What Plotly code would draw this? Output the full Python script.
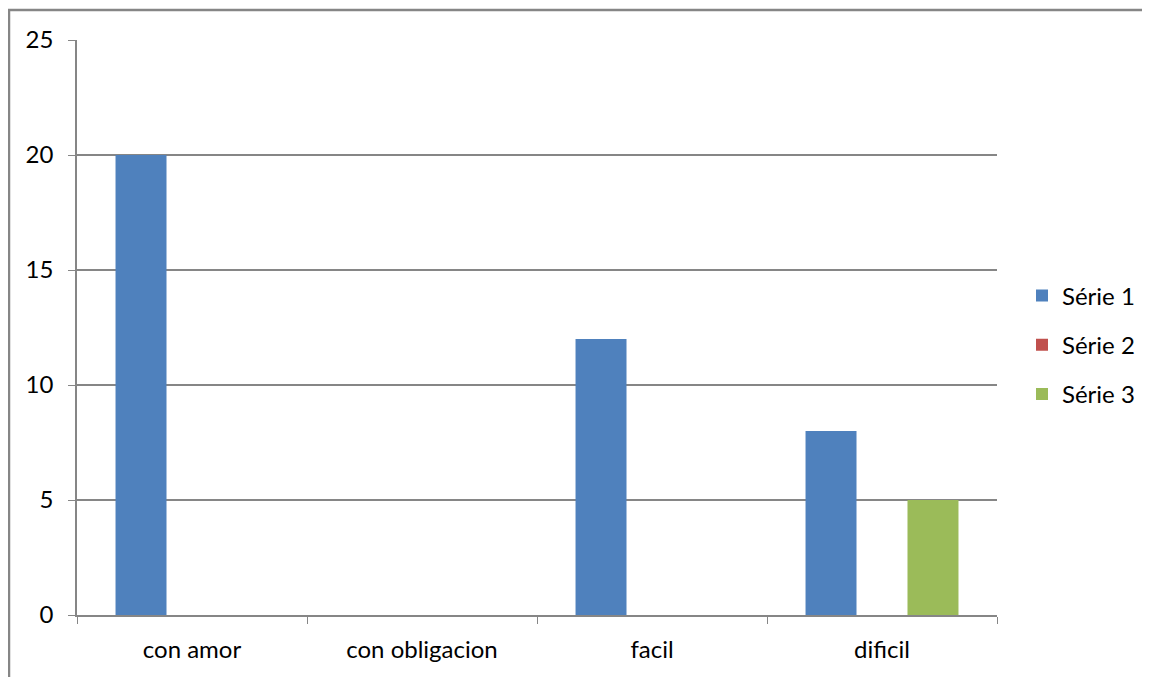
import plotly.graph_objects as go

categories = ["con amor", "con obligacion", "facil", "dificil"]
serie1 = [20, 0, 12, 8]
serie2 = [0, 0, 0, 0]
serie3 = [0, 0, 0, 5]
series_names = ["Série 1", "Série 2", "Série 3"]
colors = ["#4F81BD", "#C0504D", "#9BBB59"]
y_ticks = [0, 5, 10, 15, 20, 25]

FONT = "Lato, 'Open Sans', sans-serif"
FS = 24

fig = go.Figure()
for i, (name, vals) in enumerate(zip(series_names, [serie1, serie2, serie3])):
    fig.add_trace(go.Bar(x=categories, y=vals, name=name, marker_color=colors[i],
                         marker_line_width=0, legendgroup=f"g{i}"))

# page body has an 8px margin; compensate so the plot area sits at page x 77-997, y 40-615
L, T = 69, 32
W, H = 1150, 677
pw, ph = 920, 575
R = W - L - pw
B = H - T - ph

fig.update_layout(
    width=W, height=H,
    margin=dict(l=L, r=R, t=T, b=B),
    paper_bgcolor="white", plot_bgcolor="white",
    barmode="group", bargap=0.335, bargroupgap=0,
    font=dict(family=FONT, size=FS, color="black"),
    showlegend=True,
    legend=dict(x=(1014 - L) / pw, y=1 - (337 - T) / ph, xanchor="left", yanchor="middle",
                traceorder="grouped", tracegroupgap=15,
                font=dict(size=FS, family=FONT), itemwidth=30),
    xaxis=dict(type="category", showgrid=False, showline=True, linecolor="#868686", linewidth=1.5,
               ticks="outside", tickson="boundaries", ticklen=7, tickcolor="#868686",
               ticklabelstandoff=12,
               tickfont=dict(size=FS, family=FONT)),
    yaxis=dict(range=[0, 25], tickvals=y_ticks, showgrid=True, gridcolor="#868686", gridwidth=1.5,
               showline=True, linecolor="#868686", linewidth=1.5, zeroline=False,
               ticks="outside", ticklen=7, tickcolor="#868686",
               ticklabelstandoff=10,
               tickfont=dict(size=FS, family=FONT)),
    shapes=[dict(type="rect", xref="paper", yref="paper",
                 x0=(1 - L) / pw, x1=(1170 - L) / pw,
                 y0=-(B + 20) / ph, y1=1 + (T - 2) / ph,
                 line=dict(color="#868686", width=2.5), fillcolor="rgba(0,0,0,0)", layer="below")],
)

fig.write_html("out.html")
